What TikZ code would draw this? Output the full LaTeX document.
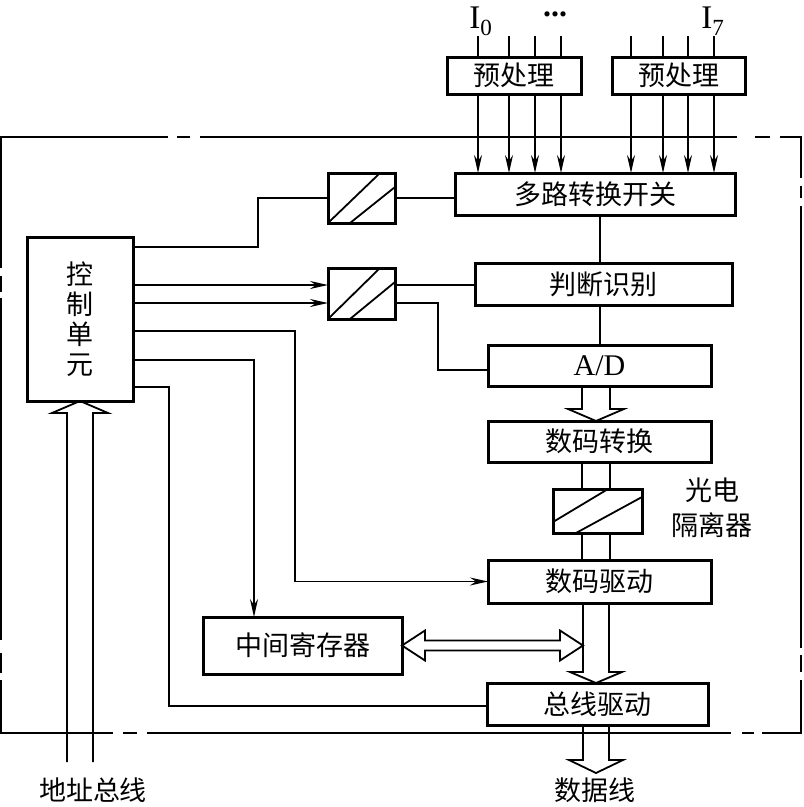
\documentclass[tikz,border=0pt]{standalone}
\usepackage{fontspec}
\setmainfont{Liberation Serif}
\newfontfamily\cjk{Noto Sans CJK SC}
\usepackage{tikz}
\usetikzlibrary{calc,arrows.meta}
\tikzset{
    block/.style={draw,line width=3pt,outer sep=0pt,inner sep=0pt,font=\cjk\fontsize{27}{30}\selectfont},
    isobox/.style={draw,line width=3pt,outer sep=0pt,inner sep=0pt},
    wire/.style={black,line width=1.8pt},
    sig/.style={wire,-{Stealth[length=18pt,width=8pt,inset=6pt]}},
    hollow/.style={black,line width=1.8pt,line join=miter},
    chain/.style={black,line width=2.4pt},
    lab/.style={inner sep=0pt,font=\cjk\fontsize{27}{35}\selectfont}
}

\begin{document}
\begin{tikzpicture}[x=1pt,y=-1pt]
\useasboundingbox (0,0) rectangle (804,807);
% blocks
\node[block,minimum width=134pt,minimum height=37pt] (pre1) at (514,75.5) {预处理};
\node[block,minimum width=133pt,minimum height=37pt] (pre2) at (678.5,75.5) {预处理};
\node[block,minimum width=280pt,minimum height=42pt] (mux) at (595,194) {多路转换开关};
\node[block,minimum width=257pt,minimum height=42pt] (judge) at (603.5,284) {判断识别};
\node[block,minimum width=223pt,minimum height=41pt,font=\fontsize{30}{34}\selectfont] (ad) at (599.5,365.5) {A/D};
\node[block,minimum width=223pt,minimum height=41pt] (conv) at (599.5,441.5) {数码转换};
\node[isobox,minimum width=89pt,minimum height=44pt] (opto) at (597.5,511) {};
\node[block,minimum width=223pt,minimum height=43pt] (drv) at (599.5,581.5) {数码驱动};
\node[block,minimum width=199pt,minimum height=57pt] (reg) at (302.5,645.5) {中间寄存器};
\node[block,minimum width=221pt,minimum height=42pt] (busdrv) at (597.5,704) {总线驱动};
\node[block,minimum width=106pt,minimum height=164pt,align=center] (ctrl) at (80,319) {控\\制\\单\\元};
\node[isobox,minimum width=67pt,minimum height=50pt] (iso1) at (361.5,198) {};
\node[isobox,minimum width=67pt,minimum height=51pt] (iso2) at (361.5,293.5) {};
% slashes
\draw[wire] (iso1.south west) -- ([xshift=-15pt]iso1.north east);
\draw[wire] ([xshift=22pt]iso1.south west) -- ([yshift=-14pt]iso1.north east);
\draw[wire] (iso2.south west) -- ([xshift=-15pt]iso2.north east);
\draw[wire] ([xshift=22pt]iso2.south west) -- ([yshift=-14pt]iso2.north east);
\draw[wire] ([yshift=11pt]opto.south west) -- ([xshift=-34pt]opto.north east);
\draw[wire] ([xshift=23pt]opto.south west) -- ([yshift=-8pt]opto.north east);
% labels
\node[font=\fontsize{33}{36}\selectfont] (lI0) at (481,21) {I\textsubscript{0}};
\node[font=\fontsize{33}{36}\selectfont] (lI7) at (713,21) {I\textsubscript{7}};
\node[font=\bfseries\fontsize{32}{34}\selectfont,inner sep=1pt] (ldots) at (555,14) {...};
\node[lab,align=center] (optolab) at (712,508) {光电\\隔离器};
\node[lab] (laddr) at (93,790) {地址总线};
\node[lab] (ldata) at (595,790) {数据线};
% inputs
\foreach \x in {478,509,535,561} {
  \draw[wire] ([yshift=21pt]pre1.north -| \x,0) -- (pre1.north -| \x,0);
  \draw[sig] (pre1.south -| \x,0) -- (mux.north -| \x,0);
}
\foreach \x in {631,663,688,714} {
  \draw[wire] ([yshift=21pt]pre2.north -| \x,0) -- (pre2.north -| \x,0);
  \draw[sig] (pre2.south -| \x,0) -- (mux.north -| \x,0);
}
% control lines
\draw[wire] (ctrl.east |- 0,247) -- (258,247) |- (iso1.west);
\draw[wire] (iso1.east) -- (iso1.east -| mux.west);
\draw[sig] (ctrl.east |- 0,285) -- (iso2.west |- 0,285);
\draw[sig] (ctrl.east |- 0,303) -- (iso2.west |- 0,303);
\draw[wire] (iso2.east |- 0,285) -- (judge.west |- 0,285);
\draw[wire] (iso2.east |- 0,303) -- (438,303) |- (ad.west |- 0,370);
\draw[wire] (mux.south -| 600,0) -- (judge.north -| 600,0);
\draw[wire] (judge.south -| 600,0) -- (ad.north -| 600,0);
\draw[sig] (ctrl.east |- 0,331) -- (295,331) |- (drv.west);
\draw[sig] (ctrl.east |- 0,360) -| (reg.north -| 254,0);
\draw[wire] (ctrl.east |- 0,387) -| (169,706) -- (busdrv.west |- 0,706);
% data path
\coordinate (col) at (596,0);
\draw[hollow] ($(col|-ad.south)+(-14,0)$) -- ++(0,23) -- ++(-14,0) -- (col|-conv.north) -- ++(28,-12) -- ++(-14,0) -- ++(0,-23);
\foreach \s in {-14,14} {
  \draw[wire] ($(col|-conv.south)+(\s,0)$) -- ($(col|-opto.north)+(\s,0)$);
  \draw[wire] ($(col|-opto.south)+(\s,0)$) -- ($(col|-drv.north)+(\s,0)$);
}
\draw[hollow] ($(col|-drv.south)+(-13,0)$) -- ($(col|-busdrv.north)+(-13,-11)$) -- ++(-13,0) -- (col|-busdrv.north) -- ++(26,-11) -- ++(-13,0) -- ($(col|-drv.south)+(13,0)$);
\draw[hollow] (reg.east) -- ++(23,-15) -- ++(0,10) -- ($(col|-reg.east)+(-36,-5)$) -- ++(0,-10) -- ($(col|-reg.east)+(-13,0)$) -- ++(-23,15) -- ++(0,-10) -- ($(reg.east)+(23,5)$) -- ++(0,10) -- cycle;
\coordinate (dout) at (596,773);
\draw[hollow] ($(col|-busdrv.south)+(-13,0)$) -- ($(dout)+(-13,-13)$) -- ++(-14,0) -- (dout) -- ++(27,-13) -- ++(-14,0) -- ($(col|-busdrv.south)+(13,0)$);
% address bus
\coordinate (abus) at (80,762);
\draw[hollow] ($(ctrl.south|-abus)+(-13,0)$) -- ($(ctrl.south)+(-13,12)$) -- ++(-15,0) -- (ctrl.south) -- ++(28,12) -- ++(-15,0) -- ($(ctrl.south|-abus)+(13,0)$);
% frame
\draw[chain] (200,137) -- (737,137) (755,137) -- (770,137) (780,137) -- (801,137) -- (801,178)
  (801,186) -- (801,198) (801,206) -- (801,648) (801,655) -- (801,672) (801,680) -- (801,733) -- (762,733)
  (754,733) -- (742,733) (731,733) -- (147,733) (137,733) -- (123,733) (113,733) -- (1,733) -- (1,680)
  (1,673) -- (1,653) (1,640) -- (1,298) (1,292) -- (1,276) (1,268) -- (1,137) -- (168,137) (177,137) -- (190,137);
\end{tikzpicture}
\end{document}
